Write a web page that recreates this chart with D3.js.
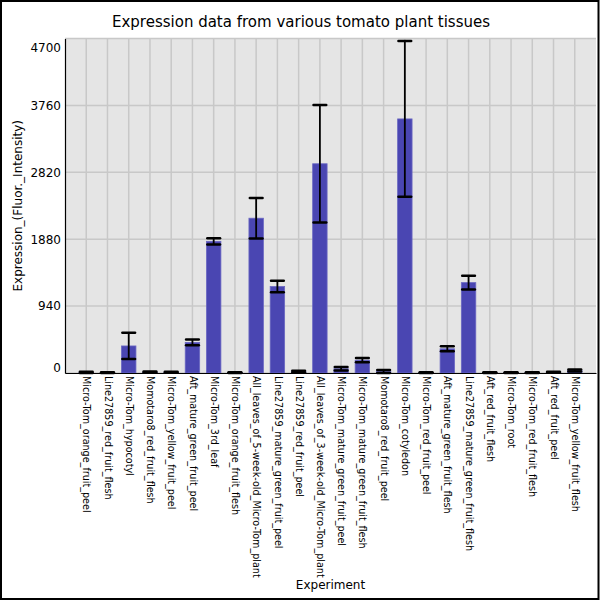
<!DOCTYPE html>
<html>
<head>
<meta charset="utf-8">
<script src="https://cdn.jsdelivr.net/npm/d3@7"></script>
<style>
  body { margin: 0; background: #fff; }
  svg { display: block; font-family: "DejaVu Sans", sans-serif; }
</style>
</head>
<body>
<div id="chart"></div>
<script>
// data
const categories = [
  "Micro-Tom_orange_fruit_peel",
  "Line27859_red_fruit_flesh",
  "Micro-Tom_hypocotyl",
  "Momotaro8_red_fruit_flesh",
  "Micro-Tom_yellow_fruit_peel",
  "Aft_mature_green_fruit_peel",
  "Micro-Tom_3rd_leaf",
  "Micro-Tom_orange_fruit_flesh",
  "All_leaves_of_5-week-old_Micro-Tom_plant",
  "Line27859_mature_green_fruit_peel",
  "Line27859_red_fruit_peel",
  "All_leaves_of_3-week-old_Micro-Tom_plant",
  "Micro-Tom_mature_green_fruit_peel",
  "Micro-Tom_mature_green_fruit_flesh",
  "Momotaro8_red_fruit_peel",
  "Micro-Tom_cotyledon",
  "Micro-Tom_red_fruit_peel",
  "Aft_mature_green_fruit_flesh",
  "Line27859_mature_green_fruit_flesh",
  "Aft_red_fruit_flesh",
  "Micro-Tom_root",
  "Micro-Tom_red_fruit_flesh",
  "Aft_red_fruit_peel",
  "Micro-Tom_yellow_fruit_flesh"
];
const means  = [8, 5, 380, 12, 10, 430, 1850, 5, 2175, 1215, 20, 2940, 60, 180, 20, 3570, 5, 340, 1270, 5, 5, 5, 10, 35];
const errors = [8, 5, 185, 10, 8, 40, 45, 5, 285, 80, 12, 825, 25, 30, 22, 1095, 5, 35, 95, 5, 5, 5, 8, 15];
const yTicks = [0, 940, 1880, 2820, 3760, 4700];

const rows = categories.map((c, i) => ({ name: c, mean: means[i], err: errors[i] }));

const width = 600, height = 600;
const margin = { top: 38.5, right: 4, bottom: 227, left: 65 };

const svg = d3.select("#chart").append("svg")
  .attr("width", width)
  .attr("height", height);

svg.append("rect")
  .attr("x", 1).attr("y", 1)
  .attr("width", width - 2.5).attr("height", height - 2)
  .attr("fill", "#fff")
  .attr("stroke", "#000")
  .attr("stroke-width", 2);

const x = d3.scalePoint()
  .domain(categories)
  .range([margin.left, width - margin.right])
  .padding(1);

const y = d3.scaleLinear()
  .domain([0, 4700])
  .range([height - margin.bottom, margin.top]);

const step = x.step();
const barW = step * 0.68;
const capW = step * 0.6;

// plot background
svg.append("rect")
  .attr("x", margin.left)
  .attr("y", margin.top)
  .attr("width", width - margin.left - margin.right)
  .attr("height", y(0) - margin.top)
  .attr("fill", "#e5e5e5");

// grid
svg.append("g")
  .selectAll("line")
  .data(yTicks)
  .join("line")
  .attr("x1", margin.left)
  .attr("x2", width - margin.right)
  .attr("y1", d => y(d))
  .attr("y2", d => y(d))
  .attr("stroke", "#c8c8c8")
  .attr("stroke-width", 1.5);

svg.append("g")
  .selectAll("line")
  .data(categories)
  .join("line")
  .attr("x1", d => x(d))
  .attr("x2", d => x(d))
  .attr("y1", margin.top)
  .attr("y2", y(0))
  .attr("stroke", "#c8c8c8")
  .attr("stroke-width", 1.5);

// bars
svg.append("g")
  .selectAll("rect")
  .data(rows)
  .join("rect")
  .attr("x", d => x(d.name) - barW / 2)
  .attr("y", d => y(d.mean))
  .attr("width", barW)
  .attr("height", d => y(0) - y(d.mean))
  .attr("fill", "#4a46b2")
  .attr("stroke", "#6a67c2")
  .attr("stroke-width", 0.8);

// error bars
const eb = svg.append("g")
  .attr("stroke", "#000")
  .selectAll("g")
  .data(rows)
  .join("g");

eb.append("line")
  .attr("x1", d => x(d.name))
  .attr("x2", d => x(d.name))
  .attr("y1", d => y(d.mean + d.err))
  .attr("y2", d => y(Math.max(0, d.mean - d.err)))
  .attr("stroke-width", 1.8);

eb.selectAll(".cap")
  .data(d => [d.mean + d.err, Math.max(0, d.mean - d.err)].map(v => ({ name: d.name, v })))
  .join("line")
  .attr("class", "cap")
  .attr("x1", d => x(d.name) - capW / 2)
  .attr("x2", d => x(d.name) + capW / 2)
  .attr("y1", d => y(d.v))
  .attr("y2", d => y(d.v))
  .attr("stroke-width", 2.5)
  .attr("stroke-linecap", "round");

// axes
const yAxis = svg.append("g")
  .attr("transform", `translate(${margin.left},0)`)
  .call(d3.axisLeft(y).tickValues(yTicks).tickFormat(d3.format("d")).tickSize(0).tickPadding(4));
yAxis.select(".domain").attr("stroke", "#000").attr("stroke-width", 1.2);
yAxis.selectAll("text")
  .style("font-family", "DejaVu Sans")
  .style("font-size", "12px")
  .style("fill", "#000")
  .attr("dy", d => d === 4700 ? "1.05em" : d === 0 ? "-0.15em" : "0.32em");

const xAxis = svg.append("g")
  .attr("transform", `translate(0,${y(0)})`)
  .call(d3.axisBottom(x).tickSize(0).tickPadding(0));
xAxis.select(".domain").attr("stroke", "#000").attr("stroke-width", 1.2);
xAxis.selectAll("text")
  .style("font-family", "DejaVu Sans")
  .style("font-size", "9.6px")
  .style("fill", "#000")
  .attr("text-anchor", "start")
  .attr("transform", "translate(0,3) rotate(90)")
  .attr("x", 0)
  .attr("y", 0)
  .attr("dy", "0.35em");

// titles
svg.append("text")
  .attr("x", 301)
  .attr("y", 26.5)
  .attr("text-anchor", "middle")
  .style("font-size", "15px")
  .text("Expression data from various tomato plant tissues");

svg.append("text")
  .attr("x", (margin.left + width - margin.right) / 2)
  .attr("y", 589)
  .attr("text-anchor", "middle")
  .style("font-size", "12px")
  .text("Experiment");

svg.append("text")
  .attr("transform", `translate(22,${(margin.top + y(0)) / 2}) rotate(-90)`)
  .attr("text-anchor", "middle")
  .style("font-size", "12px")
  .text("Expression_(Fluor._Intensity)");
</script>
</body>
</html>
